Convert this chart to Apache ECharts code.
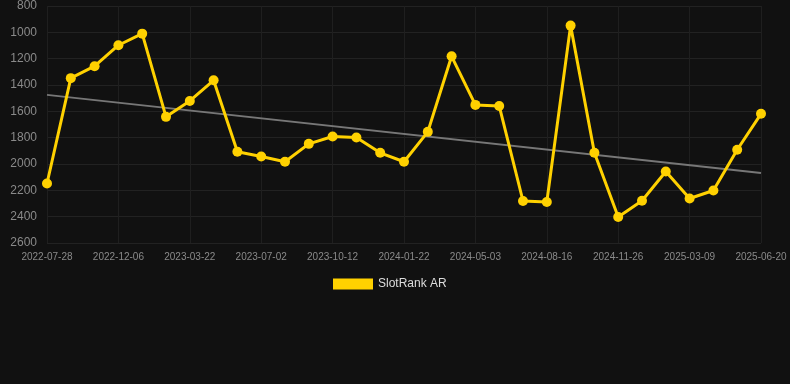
<!DOCTYPE html>
<html>
<head>
<meta charset="utf-8">
<script src="https://cdn.jsdelivr.net/npm/echarts@6/dist/echarts.min.js"></script>
<style>
  html, body { margin: 0; padding: 0; background: #111111; }
  #container { width: 790px; height: 384px; }
</style>
</head>
<body>
<div id="container"></div>
<script>
const dates = [
    '2022-07-28', '2022-09-10', '2022-10-24', '2022-12-06', '2023-01-10', '2023-02-15',
    '2023-03-22', '2023-04-25', '2023-05-29', '2023-07-02', '2023-08-04', '2023-09-08',
    '2023-10-12', '2023-11-14', '2023-12-19', '2024-01-22', '2024-02-24', '2024-03-30',
    '2024-05-03', '2024-06-06', '2024-07-12', '2024-08-16', '2024-09-18', '2024-10-22',
    '2024-11-26', '2024-12-30', '2025-02-03', '2025-03-09', '2025-04-12', '2025-05-16',
    '2025-06-20'
];
const rankValues = [
    2148, 1348, 1257, 1098, 1010, 1642, 1521, 1364, 1907, 1943,
    1983, 1847, 1791, 1799, 1915, 1983, 1756, 1182, 1551, 1559,
    2281, 2289, 949, 1915, 2403, 2279, 2057, 2262, 2201, 1892,
    1619
];
const trendEnds = [1475, 2069];

let dom = document.getElementById("container");
let myChart = echarts.init(dom, null, { renderer: 'canvas' });

let option = {
    backgroundColor: '#111111',
    animation: false,
    grid: { left: 47, right: 29, top: 6, bottom: 141 },
    legend: {
        top: 273,
        left: 328,
        itemWidth: 40,
        itemHeight: 11,
        icon: 'rect',
        textStyle: { color: '#dddddd', fontSize: 12, fontFamily: 'Liberation Sans, Arial, sans-serif' },
        data: ['SlotRank AR']
    },
    xAxis: {
        type: 'category',
        data: dates,
        boundaryGap: false,
        axisLine: { show: false },
        axisTick: { show: false },
        axisLabel: {
            interval: 2,
            color: '#8a8a8a',
            fontSize: 10,
            margin: 9,
            fontFamily: 'Liberation Sans, Arial, sans-serif'
        },
        splitLine: { show: true, interval: 2, lineStyle: { color: '#1f1f1f', width: 1 } }
    },
    yAxis: {
        type: 'value',
        inverse: true,
        min: 800,
        max: 2600,
        interval: 200,
        axisLine: { show: false },
        axisTick: { show: false },
        axisLabel: {
            color: '#8a8a8a',
            fontSize: 12,
            margin: 10,
            fontFamily: 'Liberation Sans, Arial, sans-serif',
            formatter: function (v) { return String(v); }
        },
        splitLine: { lineStyle: { color: '#222222', width: 1 } }
    },
    series: [
        {
            name: 'SlotRank AR',
            type: 'line',
            data: rankValues,
            color: '#FFD100',
            symbol: 'circle',
            symbolSize: 10,
            lineStyle: { width: 3, color: '#FFD100' },
            itemStyle: { color: '#FFD100' },
            z: 3
        },
        {
            name: 'trend',
            type: 'line',
            data: [[0, trendEnds[0]], [dates.length - 1, trendEnds[1]]],
            symbol: 'none',
            lineStyle: { width: 2, color: '#777777' },
            silent: true,
            z: 2
        }
    ]
};
myChart.setOption(option);
</script>
</body>
</html>
